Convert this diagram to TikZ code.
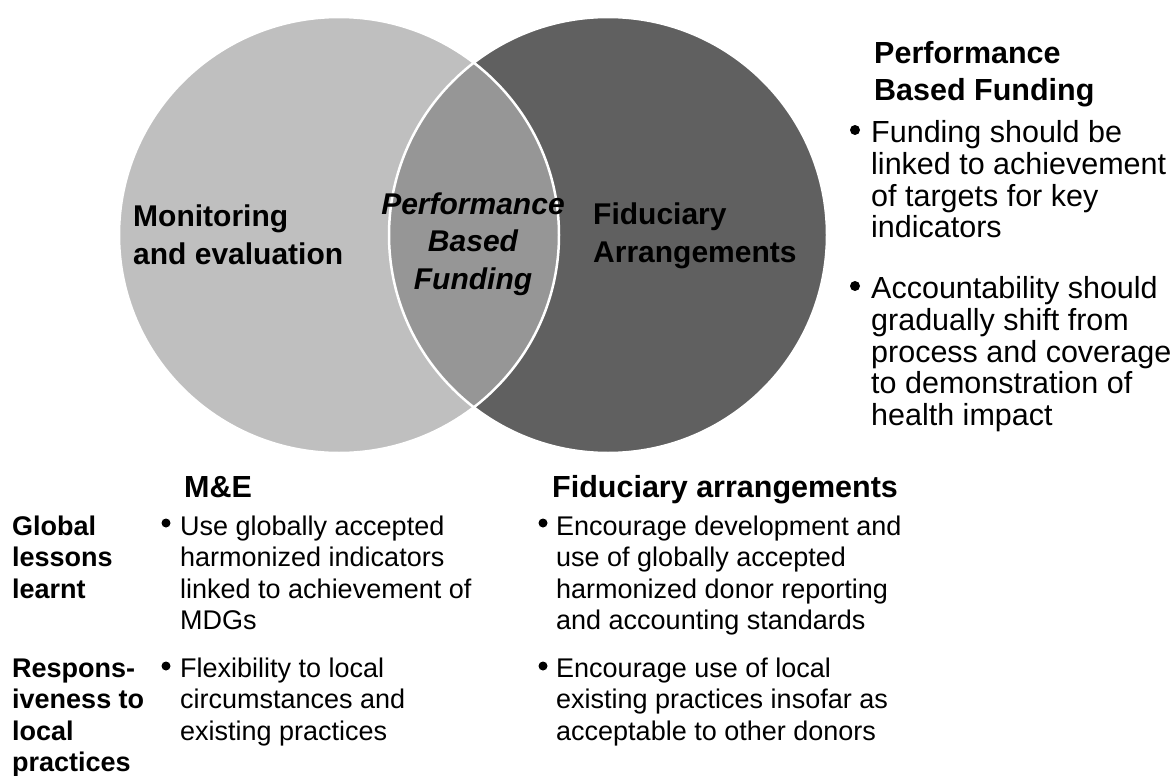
\documentclass[tikz,border=0pt]{standalone}
\usepackage{fontspec}
\setmainfont{Liberation Sans}
\definecolor{meLight}{gray}{0.75}
\definecolor{fidDark}{gray}{0.376}
\definecolor{pbfMid}{gray}{0.59}

\begin{document}
\begin{tikzpicture}[x=1pt,y=-1pt,
        lbl/.style={anchor=north west,inner sep=0pt,align=left,font=\fontsize{30}{38}\selectfont\bfseries},
        head/.style={anchor=north west,inner sep=0pt,align=left,font=\fontsize{30.5}{37}\selectfont\bfseries},
        body/.style={anchor=north west,inner sep=0pt,align=left,font=\fontsize{27}{31.5}\selectfont},
        rbody/.style={body,font=\fontsize{30.5}{31.5}\selectfont},
        rowlbl/.style={body,font=\fontsize{27}{31.5}\selectfont\bfseries},
        bul/.style={fill=black},
        edge/.style={draw=white,line width=2.5pt}]
        \useasboundingbox (0,0) rectangle (1173,776);
        % the two circles and their overlap
        \fill[meLight] (339,235) ellipse [x radius=220pt,y radius=218pt];
        \fill[fidDark] (608,235) ellipse [x radius=219pt,y radius=218pt];
        \begin{scope}
            \clip (339,235) ellipse [x radius=220pt,y radius=218pt];
            \fill[pbfMid] (608,235) ellipse [x radius=219pt,y radius=218pt];
        \end{scope}
        \path[edge] (339,235) ellipse [x radius=220pt,y radius=218pt];
        \path[edge] (608,235) ellipse [x radius=219pt,y radius=218pt];
        \node[lbl] (metxt) at (133,200) {\strut Monitoring\\and evaluation};
        \node[lbl] (fidtxt) at (593,198) {\strut Fiduciary\\Arrangements};
        \node[lbl,anchor=north,align=center,font=\fontsize{30}{37.5}\selectfont\bfseries\itshape] (pbftxt) at (473,188) {\strut Performance\\Based\\Funding};
        % right column
        \node[head] (pbfhead) at (874,37) {\strut Performance\\Based Funding};
        \node[rbody] (pbf1) at (871,120) {\strut Funding should be\\linked to achievement\\of targets for key\\indicators};
        \node[rbody] (pbf2) at (871,276) {\strut Accountability should\\gradually shift from\\process and coverage\\to demonstration of\\health impact};
        \fill[bul] (855,130) circle (5pt);
        \fill[bul] (855,286) circle (5pt);
        % table below
        \node[head] (mehead) at (184,471) {\strut M\&E};
        \node[head] (fahead) at (552,471) {\strut Fiduciary arrangements};
        \node[rowlbl] (global) at (12,513) {\strut Global\\lessons\\learnt};
        \node[rowlbl] (resp) at (12,655) {\strut Respons-\\iveness to\\local\\practices};
        \node[body] (me1) at (180,513) {\strut Use globally accepted\\harmonized indicators\\linked to achievement of\\MDGs};
        \node[body] (me2) at (180,655) {\strut Flexibility to local\\circumstances and\\existing practices};
        \node[body] (fa1) at (556,513) {\strut Encourage development and\\use of globally accepted\\harmonized donor reporting\\and accounting standards};
        \node[body] (fa2) at (556,655) {\strut Encourage use of local\\existing practices insofar as\\acceptable to other donors};
        \fill[bul] (166,523) circle (4.5pt);
        \fill[bul] (166,666) circle (4.5pt);
        \fill[bul] (543,523) circle (4.5pt);
        \fill[bul] (543,666) circle (4.5pt);
    \end{tikzpicture}
\end{document}
